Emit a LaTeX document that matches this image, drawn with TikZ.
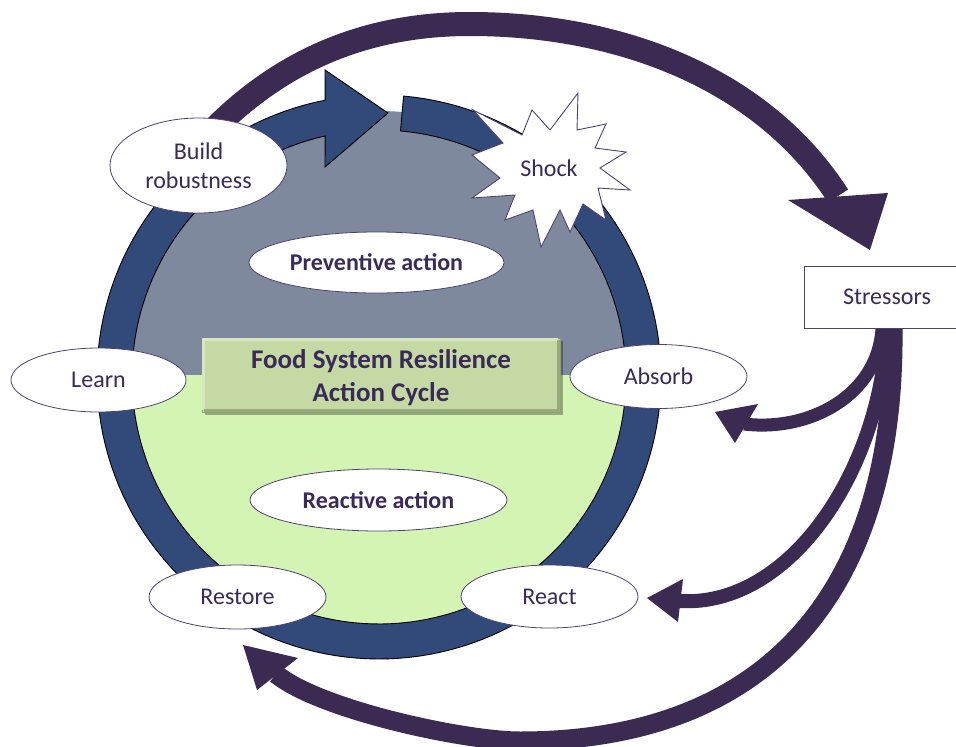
\documentclass[tikz,border=0pt]{standalone}
\usepackage{fontspec}
\setmainfont{Carlito}
\usetikzlibrary{shapes.geometric,calc,shadows}
\definecolor{ringblue}{HTML}{324A7A}
\definecolor{topgray}{HTML}{7F899E}
\definecolor{lowgreen}{HTML}{D4F4B4}
\definecolor{boxgreen}{HTML}{C5D9A5}
\definecolor{boxlight}{HTML}{D8E6C2}
\definecolor{boxdark}{HTML}{97AA79}
\definecolor{boxedge}{HTML}{8E9F70}
\definecolor{flow}{HTML}{3B2A52}
\definecolor{ink}{HTML}{3A2A58}
\definecolor{rim}{HTML}{4E4270}
\pgfdeclarelayer{base}
\pgfdeclarelayer{flows}
\pgfsetlayers{base,flows,main}
\begin{document}
\begin{tikzpicture}[x=1pt,y=-1pt,
  stage/.style={ellipse,draw=rim,line width=0.8pt,fill=white,inner sep=0pt,
    text=ink,font=\fontsize{24}{29}\selectfont,align=center},
  actionlabel/.style={stage,font=\bfseries\fontsize{24}{29}\selectfont},
  flowline/.style={draw=flow,line cap=butt},
  flowhead/.style={fill=flow}]
\useasboundingbox (0,0) rectangle (956,747);

% ---------- cycle: disc and ring ----------
\begin{pgfonlayer}{base}
\fill[white] (0,0) rectangle (956,747);
\fill[topgray] (379,377) circle[radius=266pt];
\begin{scope}
  \clip (0,375) rectangle (956,747);
  \fill[lowgreen] (379,377) circle[radius=266pt];
\end{scope}
\filldraw[fill=ringblue,draw=black,line width=0.9pt]
  plot[domain=-85:259,samples=160] ({379+282*cos(\x)},{377+282*sin(\x)})
  -- (325,70) -- (388,113) -- (325,167)
  -- plot[domain=257.4:-85,samples=160] ({379+247*cos(\x)},{377+247*sin(\x)})
  -- cycle;
\end{pgfonlayer}

% ---------- centre title ----------
\node[fill=boxgreen,draw=boxedge,line width=0.8pt,minimum width=358pt,
  minimum height=74pt,inner sep=0pt,
  drop shadow={shadow xshift=2.5pt,shadow yshift=-2.5pt,fill=black,opacity=0.3}]
  (title) at (381,375) {};
\draw[boxlight,line width=2.5pt]
  ($(title.south west)+(2,-2)$) -- ($(title.north west)+(2,2)$)
  -- ($(title.north east)+(-2,2)$);
\draw[boxdark,line width=2.5pt]
  ($(title.south west)+(2,-2)$) -- ($(title.south east)+(-2,-2)$)
  -- ($(title.north east)+(-2,2)$);
\node[align=center,text=ink,font=\bfseries\fontsize{27}{33}\selectfont]
  (titletext) at ($(title.center)+(0,3)$) {Food System Resilience\\Action Cycle};

% ---------- stages ----------
\node[stage,minimum width=177pt,minimum height=95pt] (build) at (198.5,165.5) {Build\\robustness};
\node[actionlabel,minimum width=255pt,minimum height=61pt] (prevent) at (376.5,262.5) {Preventive action};
\node[stage,minimum width=175pt,minimum height=64pt] (learn) at (98.5,380) {Learn};
\node[stage,minimum width=177pt,minimum height=64pt] (absorb) at (658.5,376.5) {Absorb};
\node[actionlabel,minimum width=257pt,minimum height=62pt] (reactive) at (378.5,500) {Reactive action};
\node[stage,minimum width=177pt,minimum height=64pt] (restore) at (237.5,597) {Restore};
\node[stage,minimum width=177pt,minimum height=63pt] (react) at (549.5,596.5) {React};

% ---------- shock burst ----------
\filldraw[fill=white,draw=rim,line width=0.9pt,line join=miter]
  (473,110) -- (522,135) -- (532,110) -- (550,130) -- (578,93) -- (577,130)
  -- (606,124) -- (595,148) -- (626,152) -- (600,168) -- (630,190) -- (598,188)
  -- (606,220) -- (583,204) -- (570,232) -- (560,210) -- (541,247) -- (533,210)
  -- (505,220) -- (515,195) -- (472,198) -- (500,178) -- (472,155) -- (503,143)
  -- cycle;
\node[text=ink,font=\fontsize{24}{29}\selectfont] (shock) at (549,168) {Shock};

% ---------- stressors ----------
\node[draw=rim,line width=0.8pt,fill=white,minimum width=166pt,minimum height=62pt,
  text=ink,font=\fontsize{24}{29}\selectfont] (stressors) at (887,297) {Stressors};

% ---------- flows ----------
\coordinate (loopTop) at (470,24);
\coordinate (loopEnd) at (838,196);
\coordinate (absorbIn) at (744,424);
\coordinate (reactIn) at (679,601);
\coordinate (restoreIn) at (276,674);
\coordinate (bottomTurn) at (520,741);
\begin{pgfonlayer}{flows}
\draw[flowline,line width=24pt]
  ($(build.center)+(11.5,-32.5)$) .. controls (276.5,64.6) and (360,24) .. (loopTop)
  .. controls (620,24) and (762.4,78.4) .. (loopEnd);
\fill[flowhead] (788,200) -- (888,193) -- (870,250) -- cycle;

\draw[flowline,line width=13pt]
  ($(stressors.south)+(-5,0)$) .. controls (878,395) and (810,432) .. (absorbIn);
\fill[flowhead] (715,412) -- (758,404) -- (735,443) -- cycle;

\draw[flowline,line width=14pt]
  ($(stressors.south)+(0,0)$) .. controls (881,470) and (790,608) .. (reactIn);
\fill[flowhead] (647,598) -- (683,579) -- (678,622) -- cycle;

\draw[flowline,line width=19pt]
  ($(stressors.south)+(6,0)$) .. controls (896,600) and (760,741) .. (bottomTurn)
  .. controls (465,741) and (320,710) .. (restoreIn);
\fill[flowhead] (243,645) -- (298,658) -- (257,690) -- cycle;
\end{pgfonlayer}
\end{tikzpicture}
\end{document}
